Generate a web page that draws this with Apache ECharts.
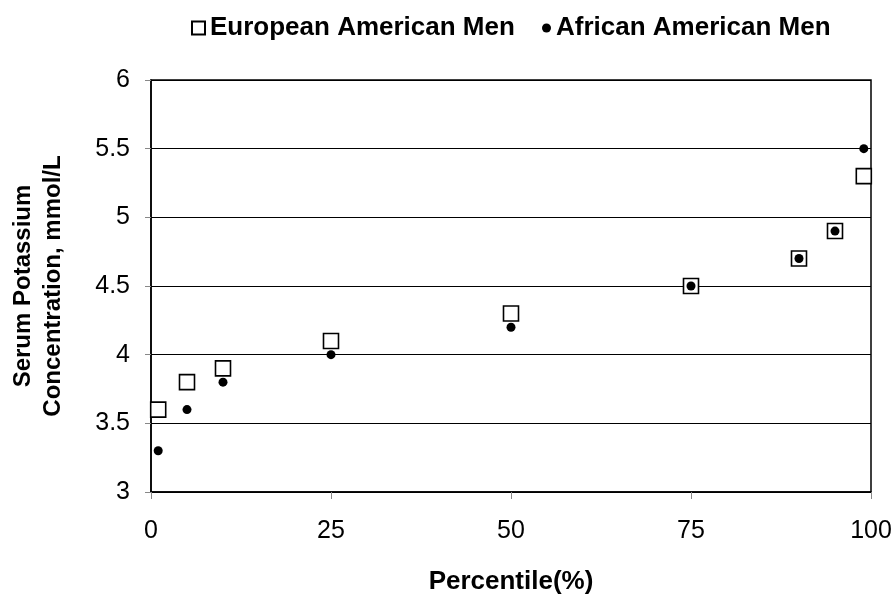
<!DOCTYPE html>
<html>
<head>
<meta charset="utf-8">
<script src="https://cdn.jsdelivr.net/npm/echarts@6/dist/echarts.min.js"></script>
<style>html,body{margin:0;padding:0;background:#fff;}#c{width:896px;height:601px;}</style>
</head>
<body>
<div id="c"></div>
<script>
const percentiles = [1, 5, 10, 25, 50, 75, 90, 95, 99];
const europeanMen = [3.6, 3.8, 3.9, 4.1, 4.3, 4.5, 4.7, 4.9, 5.3];
const africanMen = [3.3, 3.6, 3.8, 4.0, 4.2, 4.5, 4.7, 4.9, 5.5];
const xTicks = [0, 25, 50, 75, 100];
const yTicks = [3, 3.5, 4, 4.5, 5, 5.5, 6];

const FONT = '"Liberation Sans", Arial, sans-serif';
const chart = echarts.init(document.getElementById('c'), null, {renderer: 'canvas'});
chart.setOption({
  backgroundColor: '#fff',
  animation: false,
  textStyle: {fontFamily: FONT},
  legend: [
    {
      data: ['European American Men'],
      left: 186, top: 10,
      itemWidth: 13, itemHeight: 13, itemGap: 4,
      textStyle: {fontSize: 26, fontWeight: 'bold', color: '#000', fontFamily: FONT}
    },
    {
      data: ['African American Men'],
      left: 537, top: 10,
      itemWidth: 9, itemHeight: 9, itemGap: 4,
      textStyle: {fontSize: 26, fontWeight: 'bold', color: '#000', fontFamily: FONT}
    }
  ],
  grid: {left: 150, right: 25, top: 80, bottom: 109, show: true, borderColor: '#000', borderWidth: 1.5},
  xAxis: {
    type: 'value', min: 0, max: 100, interval: 25,
    name: 'Percentile(%)', nameLocation: 'middle', nameGap: 77,
    nameTextStyle: {fontSize: 26, fontWeight: 'bold', color: '#000', fontFamily: FONT},
    axisLine: {show: true, lineStyle: {color: '#000', width: 1.5}},
    axisTick: {show: true, length: 7, lineStyle: {color: '#888'}},
    axisLabel: {fontSize: 25, color: '#000', margin: 27, fontFamily: FONT,
      formatter: v => xTicks.includes(v) ? String(v) : ''},
    splitLine: {show: false}
  },
  yAxis: {
    type: 'value', min: 3, max: 6, interval: 0.5,
    name: 'Serum Potassium\nConcentration, mmol/L', nameLocation: 'middle', nameGap: 83,
    nameTextStyle: {fontSize: 24, fontWeight: 'bold', color: '#000', lineHeight: 30, fontFamily: FONT},
    axisLine: {show: true, lineStyle: {color: '#000', width: 1.5}},
    axisTick: {show: true, length: 6, lineStyle: {color: '#888'}},
    axisLabel: {fontSize: 25, color: '#000', margin: 21, fontFamily: FONT,
      formatter: v => yTicks.includes(v) ? String(v) : ''},
    splitLine: {show: true, lineStyle: {color: '#000', width: 1}}
  },
  series: [
    {
      name: 'European American Men', type: 'scatter', symbol: 'rect', symbolSize: 15,
      itemStyle: {color: '#fff', borderColor: '#000', borderWidth: 1.6, opacity: 1},
      data: percentiles.map((p, i) => [p, europeanMen[i]]), z: 2
    },
    {
      name: 'African American Men', type: 'scatter', symbol: 'circle', symbolSize: 9,
      itemStyle: {color: '#000', opacity: 1},
      data: percentiles.map((p, i) => [p, africanMen[i]]), z: 3
    }
  ]
});
</script>
</body>
</html>
